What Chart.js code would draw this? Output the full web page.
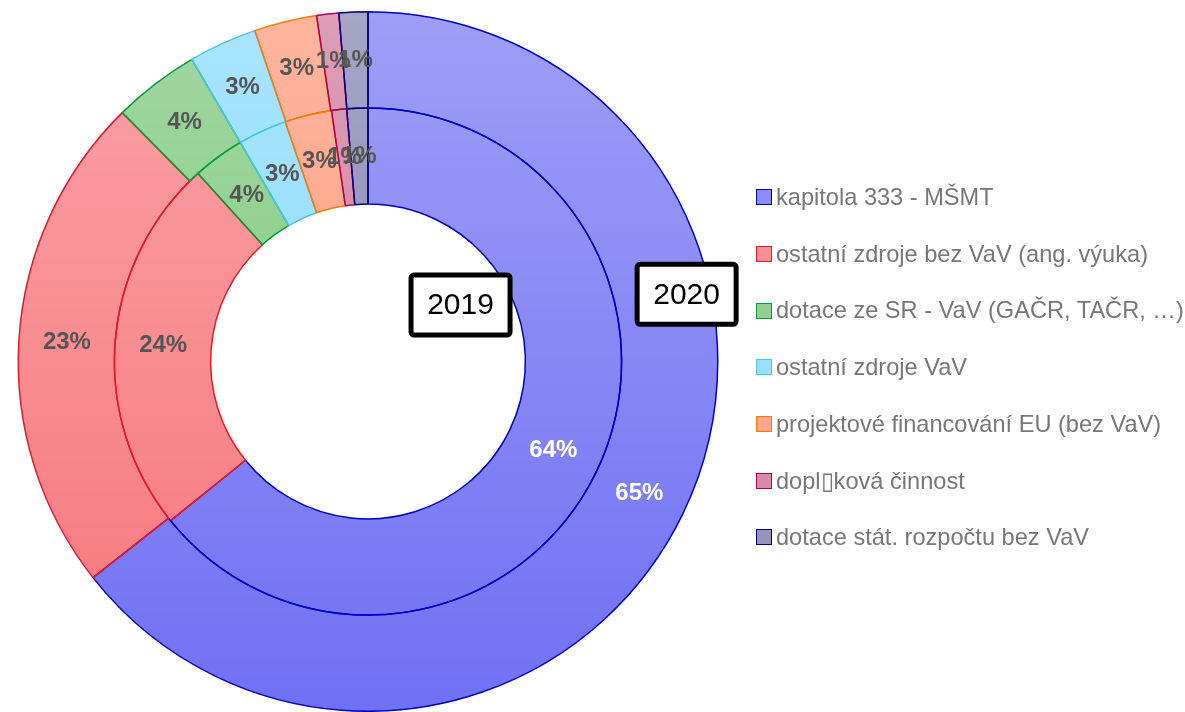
<!DOCTYPE html>
<html>
<head>
<meta charset="utf-8">
<title>Zdroje financování 2019 / 2020</title>
<script src="https://cdn.jsdelivr.net/npm/chart.js@4.4.1/dist/chart.umd.min.js"></script>
<style>
    html, body { margin: 0; padding: 0; background: #fff; }
    #wrap { position: relative; width: 1185px; height: 712px; overflow: hidden; }
    #legend { position: absolute; left: 756px; top: 169px; font-family: "Liberation Sans", Arial, sans-serif; font-size: 23.6px; color: #777; }
    .legend-item { height: 56.7px; display: flex; align-items: center; white-space: nowrap; }
    .legend-box { width: 14px; height: 14px; border: 1.5px solid; margin-right: 4px; flex: none; }
</style>
</head>
<body>
<div id="wrap">
    <canvas id="chart" width="1185" height="712"></canvas>
    <div id="legend"></div>
</div>
<script>
// Data (shares in %, outer ring = 2020, inner ring = 2019)
const categories = [
    'kapitola 333 - MŠMT',
    'ostatní zdroje bez VaV (ang. výuka)',
    'dotace ze SR - VaV (GAČR, TAČR, …)',
    'ostatní zdroje VaV',
    'projektové financování EU (bez VaV)',
    'dopl\u25AFková činnost',
    'dotace stát. rozpočtu bez VaV'
];
const years = ['2020', '2019'];
const shares2020 = [64.4, 23.2, 4.0, 3.15, 2.9, 1.02, 1.33];
const shares2019 = [64.2, 24.1, 3.3, 3.1, 3.0, 0.96, 1.34];
const pctLabels2020 = ['65%', '23%', '4%', '3%', '3%', '1%', '1%'];
const pctLabels2019 = ['64%', '24%', '4%', '3%', '3%', '1%', '1%'];

// colours
const fillRGB = [[0, 0, 235], [240, 10, 20], [10, 150, 10], [30, 185, 250], [255, 60, 0], [165, 0, 65], [20, 20, 105]];
const borderColors = ['#0000cc', '#e8192c', '#00a03c', '#4cc3f5', '#ff7a00', '#b0005a', '#000080'];

const rgba = (c, a) => `rgba(${c[0]}, ${c[1]}, ${c[2]}, ${a})`;

const gradientCache = {};
function arcFill(context) {
    const i = context.dataIndex;
    const area = context.chart.chartArea;
    if (!area) return rgba(fillRGB[i], 0.45);
    const key = i + ':' + area.top + ':' + area.bottom;
    if (!gradientCache[key]) {
        const g = context.chart.ctx.createLinearGradient(0, area.top, 0, area.bottom);
        g.addColorStop(0, rgba(fillRGB[i], 0.38));
        g.addColorStop(1, rgba(fillRGB[i], 0.56));
        gradientCache[key] = g;
    }
    return gradientCache[key];
}

const font = '"Liberation Sans", Arial, sans-serif';

// percentage labels in the middle of each slice
const pctLabelPlugin = {
    id: 'pctLabels',
    afterDatasetsDraw(chart) {
        const ctx = chart.ctx;
        const labelSets = [pctLabels2020, pctLabels2019];
        ctx.save();
        ctx.font = 'bold 24px ' + font;
        ctx.textAlign = 'center';
        ctx.textBaseline = 'middle';
        chart.data.datasets.forEach((ds, d) => {
            const meta = chart.getDatasetMeta(d);
            meta.data.forEach((arc, i) => {
                const pos = arc.tooltipPosition();
                ctx.fillStyle = i === 0 ? '#ffffff' : '#555555';
                ctx.fillText(labelSets[d][i], pos.x, pos.y);
            });
        });
        ctx.restore();
    }
};

// year tags ("2020" on the outer ring, "2019" next to the inner one)
const yearTagPlugin = {
    id: 'yearTags',
    afterDatasetsDraw(chart) {
        const ctx = chart.ctx;
        const arc = chart.getDatasetMeta(0).data[0];
        if (!arc) return;
        const R = arc.outerRadius;
        const tags = [
            { text: years[0], angle: 78.1, r: 0.931 },
            { text: years[1], angle: 58.6, r: 0.31 }
        ];
        ctx.save();
        ctx.font = '30px ' + font;
        ctx.textAlign = 'center';
        ctx.textBaseline = 'middle';
        tags.forEach(t => {
            const a = t.angle * Math.PI / 180;
            const cx = arc.x + Math.sin(a) * R * t.r;
            const cy = arc.y - Math.cos(a) * R * t.r;
            const w = 99, h = 60;
            ctx.beginPath();
            ctx.roundRect(cx - w / 2, cy - h / 2, w, h, 3);
            ctx.fillStyle = '#ffffff';
            ctx.fill();
            ctx.lineWidth = 5;
            ctx.strokeStyle = '#000000';
            ctx.stroke();
            ctx.fillStyle = '#000000';
            ctx.fillText(t.text, cx, cy + 1);
        });
        ctx.restore();
    }
};

new Chart(document.getElementById('chart'), {
    type: 'doughnut',
    data: {
        labels: categories,
        datasets: [
            {
                label: years[0],
                data: shares2020,
                backgroundColor: arcFill,
                borderColor: borderColors,
                borderWidth: 1.5
            },
            {
                label: years[1],
                data: shares2019,
                backgroundColor: arcFill,
                borderColor: borderColors,
                borderWidth: 1.5
            }
        ]
    },
    options: {
        responsive: false,
        animation: false,
        cutout: '45%',
        layout: {
            padding: { left: 17.5, right: 466.5, top: 11, bottom: 0 }
        },
        plugins: {
            legend: { display: false },
            tooltip: { enabled: false }
        }
    },
    plugins: [pctLabelPlugin, yearTagPlugin]
});

// legend
const legend = document.getElementById('legend');
categories.forEach((name, i) => {
    legend.insertAdjacentHTML('beforeend',
        `<div class="legend-item"><span class="legend-box" style="background:${rgba(fillRGB[i], 0.45)};border-color:${borderColors[i]}"></span>${name}</div>`);
});
</script>
</body>
</html>
